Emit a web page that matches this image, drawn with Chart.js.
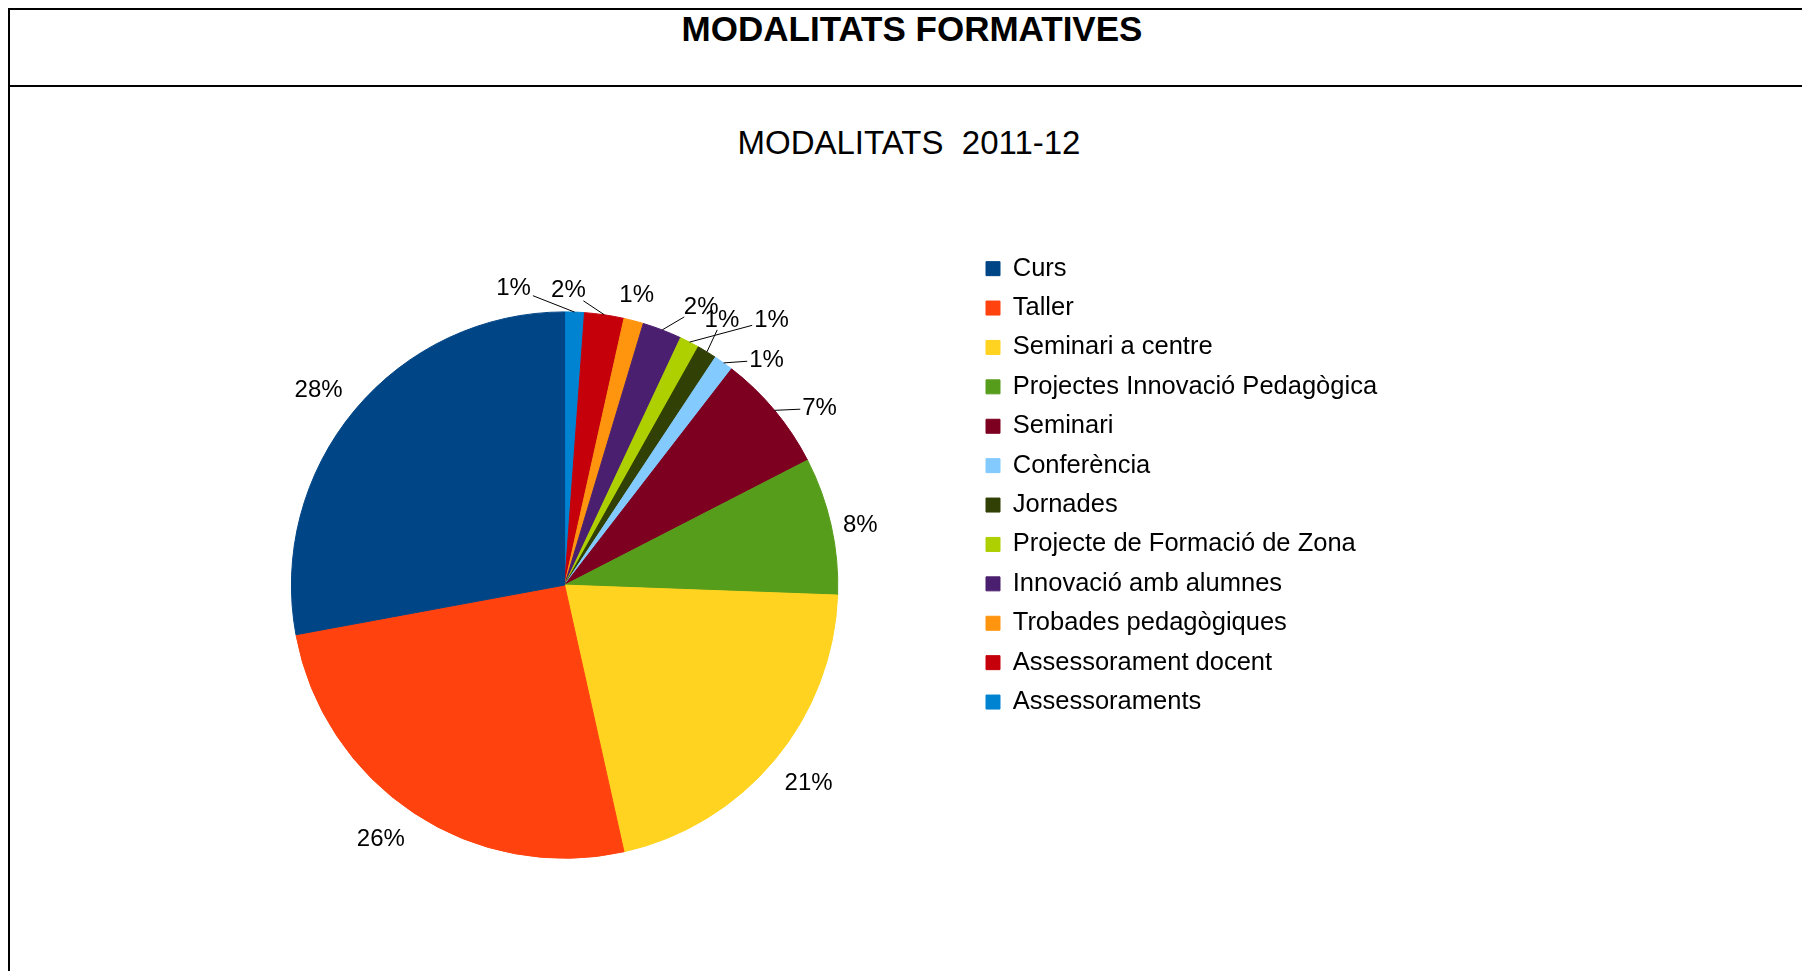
<!DOCTYPE html>
<html>
<head>
<meta charset="utf-8">
<script src="https://cdn.jsdelivr.net/npm/chart.js@4"></script>
<style>
  body { margin: 0; background: #fff; overflow: hidden; font-family: "Liberation Sans", Arial, sans-serif; }
  #frame { position: absolute; left: 8px; top: 8px; width: 1802px; height: 75px;
           border-top: 2px solid #000; border-bottom: 2px solid #000; border-left: 2px solid #000; }
  #leftLine { position: absolute; left: 8px; top: 8px; width: 2px; height: 963px; background: #000; }
  #mainTitle { position: absolute; left: 412px; width: 1000px; top: 11.1px; text-align: center;
               font-size: 35px; line-height: 35px; font-weight: bold; color: #000; }
  #subTitle { position: absolute; left: 409px; width: 1000px; top: 126.4px; text-align: center;
              font-size: 33px; line-height: 33px; color: #000; white-space: pre; }
  #chart { position: absolute; left: 0; top: 0; }
</style>
</head>
<body>
<div id="frame"></div>
<div id="leftLine"></div>
<div id="mainTitle">MODALITATS FORMATIVES</div>
<div id="subTitle">MODALITATS  2011-12</div>
<canvas id="chart" width="1802" height="971"></canvas>
<script>
{
  // categories in legend order (the pie runs counter-clockwise from the top)
  const categories = ['Curs', 'Taller', 'Seminari a centre', 'Projectes Innovació Pedagògica', 'Seminari',
    'Conferència', 'Jornades', 'Projecte de Formació de Zona', 'Innovació amb alumnes',
    'Trobades pedagògiques', 'Assessorament docent', 'Assessoraments'];
  const counts = [24, 22, 18, 7, 6, 1, 1, 1, 2, 1, 2, 1];
  const colors = ['#004586', '#ff420e', '#ffd320', '#579d1c', '#7e0021', '#83caff',
    '#314004', '#aecf00', '#4b1f6f', '#ff950e', '#c5000b', '#0084d1'];

  // where each percentage label sits, relative to the slice edge: [dx, dy, leader line]
  const labelOffsets = [[-36, -20, false], [-33, 26, false], [34, 24, false], [29, 0, false],
    [45, -2, true], [43, -3, true], [15, -32, true], [82, -22, true], [39, -23, true],
    [3, -25, false], [-36, -24, true], [-61, -24, true]];

  const fontFamily = '"Liberation Sans", Arial, sans-serif';
  Chart.defaults.font.family = fontFamily;

  // legend geometry: the legend box sits right of the pie
  const legendFont = 25.5;
  const legendPad = 39.4 - legendFont;
  const boxSize = 14;
  const mctx = document.createElement('canvas').getContext('2d');
  mctx.font = legendFont + 'px ' + fontFamily;
  const widest = Math.max(...categories.map(c => mctx.measureText(c).width));
  const legendWidth = legendPad + boxSize + legendFont / 2 + widest + 10;
  const legendLeft = 986 - legendPad;
  const pieCenterX = 564.6;

  const pctLabels = {
    id: 'pctLabels',
    afterDatasetsDraw(chart) {
      const ctx = chart.ctx;
      const meta = chart.getDatasetMeta(0);
      const total = counts.reduce((a, b) => a + b, 0);
      ctx.save();
      ctx.font = '24px ' + fontFamily;
      ctx.fillStyle = '#000';
      ctx.strokeStyle = '#000';
      ctx.lineWidth = 1;
      ctx.textAlign = 'center';
      ctx.textBaseline = 'middle';
      meta.data.forEach((arc, j) => {
        const i = categories.length - 1 - j; // dataset is reversed
        const p = arc.getProps(['x', 'y', 'startAngle', 'endAngle', 'outerRadius'], true);
        const mid = (p.startAngle + p.endAngle) / 2;
        const ax = p.x + Math.cos(mid) * p.outerRadius;
        const ay = p.y + Math.sin(mid) * p.outerRadius;
        const [dx, dy, leader] = labelOffsets[i];
        const cx = ax + dx, cy = ay + dy;
        const text = Math.round(counts[i] / total * 100) + '%';
        if (leader) {
          const hw = ctx.measureText(text).width / 2 + 2, hh = 10;
          const tx = dx !== 0 ? 1 - hw / Math.abs(dx) : -Infinity;
          const ty = dy !== 0 ? 1 - hh / Math.abs(dy) : -Infinity;
          const t = Math.max(tx, ty);
          if (t > 0) {
            ctx.beginPath();
            ctx.moveTo(ax, ay);
            ctx.lineTo(ax + dx * t, ay + dy * t);
            ctx.stroke();
          }
        }
        ctx.fillText(text, cx, cy);
      });
      ctx.restore();
    }
  };

  const ctx = document.getElementById('chart').getContext('2d');
  new Chart(ctx, {
    type: 'pie',
    data: {
      labels: categories.slice().reverse(),
      datasets: [{
        data: counts.slice().reverse(),
        backgroundColor: colors.slice().reverse(),
        borderColor: colors.slice().reverse(),
        borderWidth: 1
      }]
    },
    options: {
      responsive: false,
      animation: false,
      radius: 273.2,
      layout: {
        padding: {
          left: 2 * pieCenterX - legendLeft,
          right: 1802 - legendLeft - legendWidth,
          top: 242,
          bottom: 42.8
        }
      },
      plugins: {
        tooltip: { enabled: false },
        title: { display: false },
        legend: {
          position: 'right',
          align: 'start',
          reverse: true,
          labels: {
            color: '#000',
            font: { size: legendFont },
            boxWidth: boxSize,
            boxHeight: boxSize,
            padding: legendPad
          }
        }
      }
    },
    plugins: [pctLabels]
  });
}
</script>
</body>
</html>
